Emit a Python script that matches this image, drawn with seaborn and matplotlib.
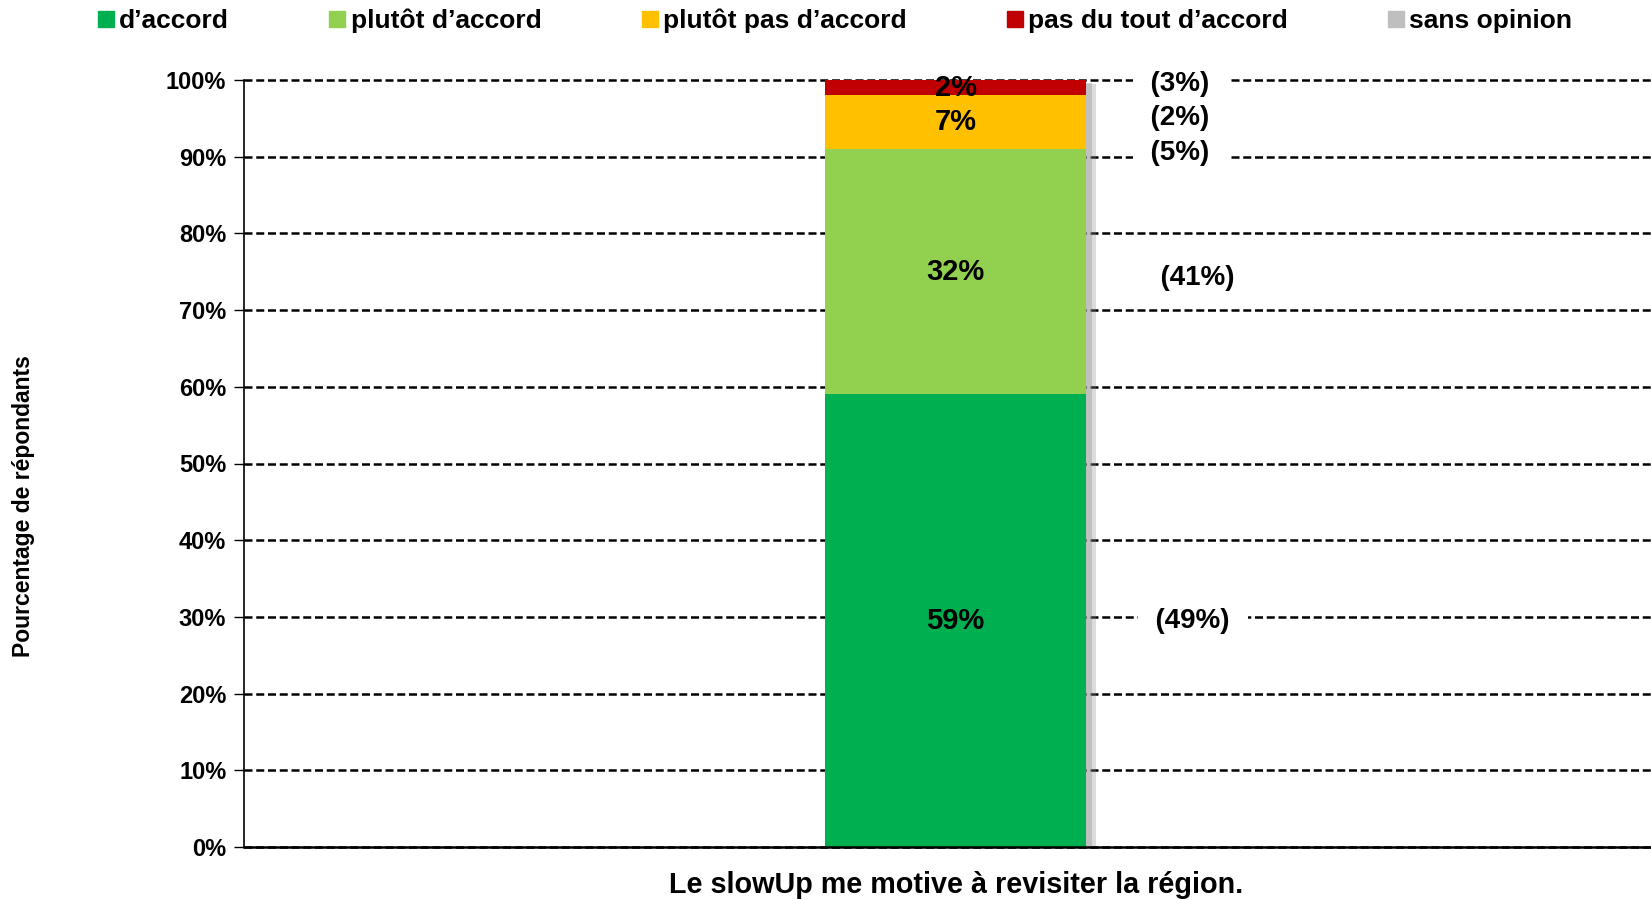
import numpy as np
import pandas as pd
import seaborn as sns
import matplotlib.pyplot as plt
from matplotlib.lines import Line2D
from matplotlib.ticker import FuncFormatter
import matplotlib.patheffects as pe

categories = ['d’accord', 'plutôt d’accord', 'plutôt pas d’accord', 'pas du tout d’accord', 'sans opinion']
colors = ['#00B050', '#92D050', '#FFC000', '#C00000', '#BFBFBF']
values = [59, 32, 7, 2, 0]
question = 'Le slowUp me motive à revisiter la région.'
# previous survey values shown on the right, with where each one sits
prev_labels = ['(49%)', '(41%)', '(5%)', '(2%)', '(3%)']
prev_y = [29.5, 74.2, 90.5, 95.0, 99.5]
prev_x = [0.454, 0.462, 0.43, 0.43, 0.43]

sns.set_style('white')
plt.rcParams['font.family'] = ['Liberation Sans', 'DejaVu Sans']
plt.rcParams['font.weight'] = 'bold'
plt.rcParams['text.color'] = 'black'
plt.rcParams['axes.labelcolor'] = 'black'
plt.rcParams['ytick.color'] = 'black'

fig = plt.figure(figsize=(16.51, 9), dpi=100)
ax = fig.add_axes([0.148, 0.059, 0.852, 0.852])

cum = np.cumsum(values)
df = pd.DataFrame({'q': [question] * len(categories), 'cat': categories, 'cum': cum, 'val': values})

# overlapping cumulative bars, tallest first
for i in range(len(categories) - 1, -1, -1):
    if values[i] == 0:
        continue
    sns.barplot(data=df.iloc[[i]], x='q', y='cum', color=colors[i], width=0.5,
                saturation=1, ax=ax, zorder=2, linewidth=0)

# soft drop shadow on the full bar
top_bar = ax.patches[0]
top_bar.set_path_effects([pe.SimplePatchShadow(offset=(7, -3), shadow_rgbFace='#8c8c8c', alpha=0.3),
                          pe.SimplePatchShadow(offset=(4, -2), shadow_rgbFace='#8c8c8c', alpha=0.35),
                          pe.Normal()])

for c, v, cu in zip(categories, values, cum):
    if v == 0:
        continue
    ax.text(0, cu - v / 2, f'{v}%', ha='center', va='center', fontsize=21, fontweight='bold', zorder=4)

for lab, y, x in zip(prev_labels, prev_y, prev_x):
    ax.text(x, y, '\u00a0\u00a0' + lab + '\u00a0\u00a0', ha='center', va='center', fontsize=20,
            fontweight='bold', zorder=4, bbox=dict(facecolor='white', edgecolor='none', pad=2))

ax.set_xlim(-1.36, 1.33)
ax.set_ylim(0, 100)
ax.set_yticks(range(0, 101, 10))
ax.yaxis.set_major_formatter(FuncFormatter(lambda v, p: f'{int(v)}%'))
ax.tick_params(axis='y', labelsize=17, length=7, width=1, color='black', direction='out', left=True, pad=6)
ax.tick_params(axis='x', bottom=False, labelbottom=False)
for t in ax.get_yticklabels():
    t.set_fontweight('bold')

ax.set_axisbelow(True)
ax.yaxis.grid(True, color='black', linestyle=(0, (3.2, 1.5)), linewidth=1.8, zorder=0)
ax.xaxis.grid(False)
for gl in ax.get_ygridlines():
    gl.set_clip_on(False)
for s in ['top', 'right']:
    ax.spines[s].set_visible(False)
ax.spines['left'].set_color('black')
ax.spines['bottom'].set_color('black')
ax.spines['left'].set_linewidth(1.2)
ax.spines['bottom'].set_linewidth(1.8)

ax.set_xlabel(question, fontsize=20.7, fontweight='bold')
ax.xaxis.set_label_coords(0.506, -0.032)
ax.set_ylabel('Pourcentage de répondants', fontsize=16.5, fontweight='bold')
ax.yaxis.set_label_coords(-0.149, 0.445)

handles = [Line2D([0], [0], marker='s', linestyle='none', markersize=11,
                  markerfacecolor=c, markeredgecolor=c) for c in colors]
fig.legend(handles, categories, loc='center', bbox_to_anchor=(0.505, 0.977), ncol=5,
           frameon=False, prop={'size': 19, 'weight': 'bold'}, handletextpad=0.1,
           columnspacing=3.7, handlelength=0.8)

fig.savefig('out.png', dpi=100)
